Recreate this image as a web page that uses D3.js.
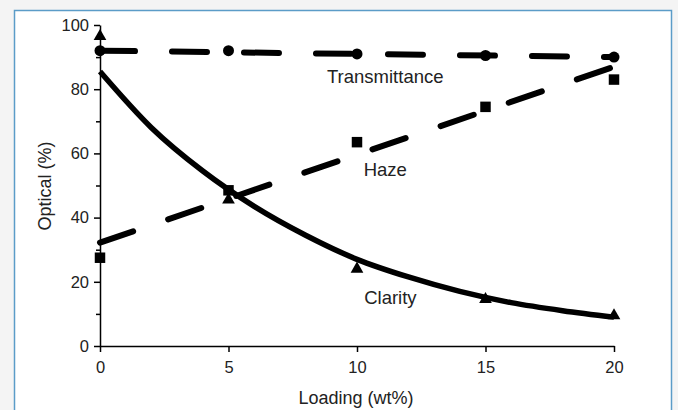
<!DOCTYPE html>
<html><head><meta charset="utf-8">
<script src="https://cdn.jsdelivr.net/npm/d3@7"></script>
<style>body{margin:0;background:#f4f4f4;}svg{display:block;}</style>
</head><body><svg id="c" width="678" height="410"></svg>
<script>
const loading = [0, 5, 10, 15, 20];
const transmittance = [92, 92, 91, 90.5, 90];
const haze = [27.5, 48.5, 63.5, 74.5, 83];
const clarity = [96.5, 45.5, 24, 14.5, 9.5];
const transFitX = [0, 20];
const transFitY = [92, 90];
const hazeFitX = [0, 20];
const hazeFitY = [32.2, 87];
const clarityFitX = [0, 2, 4, 6, 8, 10, 12, 14, 16, 18, 20];
const clarityFitY = [85.5, 68, 54.5, 43.5, 34.5, 27, 21.5, 17, 13.5, 11, 9];
const xTicks = [0, 5, 10, 15, 20];
const yTicks = [0, 20, 40, 60, 80, 100];
const yMinor = [10, 30, 50, 70, 90];
const labels = [
  {text: "Transmittance", x: 11.1, y: 82},
  {text: "Haze", x: 11.1, y: 53},
  {text: "Clarity", x: 11.3, y: 13}
];

const svg = d3.select("#c");
svg.append("rect").attr("x", 0).attr("y", 0).attr("width", 678).attr("height", 410).attr("fill", "#f4f4f4");
svg.append("rect").attr("x", 14.5).attr("y", 10.5).attr("width", 657).attr("height", 420)
  .attr("fill", "#fff").attr("stroke", "#5b9cc8").attr("stroke-width", 1.5);

const x = d3.scaleLinear().domain([0, 20]).range([100, 614]);
const y = d3.scaleLinear().domain([0, 100]).range([346, 25]);
const font = "'Liberation Sans', Arial, Helvetica, sans-serif";
const txt = "#222";

// axes
const gy = svg.append("g").attr("transform", "translate(100,0)")
  .call(d3.axisLeft(y).tickValues(yTicks).tickSize(6).tickSizeOuter(0).tickPadding(5));
const gyMinor = svg.append("g").attr("transform", "translate(100,0)")
  .call(d3.axisLeft(y).tickValues(yMinor).tickSize(4).tickFormat(""));
gyMinor.select(".domain").remove();
const gx = svg.append("g").attr("transform", "translate(0,346)")
  .call(d3.axisBottom(x).tickValues(xTicks).tickSize(6).tickSizeOuter(0).tickPadding(9));
[gy, gyMinor, gx].forEach(g => {
  g.selectAll("path,line").attr("stroke", "#000").attr("stroke-width", 1.5);
  g.selectAll("text").attr("font-family", font).attr("font-size", 16.5).attr("fill", txt);
});

// fit lines
const line = d3.line().x(d => x(d[0])).y(d => y(d[1]));
const dash = "35,37";
svg.append("path").datum(d3.zip(transFitX, transFitY)).attr("d", line)
  .attr("fill", "none").attr("stroke", "#000").attr("stroke-width", 6)
  .attr("stroke-dasharray", dash).attr("stroke-linecap", "round");
svg.append("path").datum(d3.zip(hazeFitX, hazeFitY)).attr("d", line)
  .attr("fill", "none").attr("stroke", "#000").attr("stroke-width", 6)
  .attr("stroke-dasharray", dash).attr("stroke-linecap", "round");
svg.append("path").datum(d3.zip(clarityFitX, clarityFitY))
  .attr("d", d3.line().x(d => x(d[0])).y(d => y(d[1])).curve(d3.curveMonotoneX))
  .attr("fill", "none").attr("stroke", "#000").attr("stroke-width", 5.5);

// markers
function markers(vals, type, size) {
  svg.append("g").selectAll("path").data(d3.zip(loading, vals)).join("path")
    .attr("transform", d => `translate(${x(d[0])},${y(d[1])})`)
    .attr("d", d3.symbol().type(type).size(size)).attr("fill", "#000");
}
markers(transmittance, d3.symbolCircle, 95);
markers(haze, d3.symbolSquare, 110);
markers(clarity, d3.symbolTriangle, 70);

// labels
svg.append("g").selectAll("text").data(labels).join("text")
  .attr("x", d => x(d.x)).attr("y", d => y(d.y)).attr("text-anchor", "middle")
  .attr("font-family", font).attr("font-size", 18.5).attr("fill", txt).text(d => d.text);

svg.append("text").attr("x", 356).attr("y", 404).attr("text-anchor", "middle")
  .attr("font-family", font).attr("font-size", 18).attr("fill", txt).text("Loading (wt%)");
svg.append("text").attr("transform", "translate(51,186) rotate(-90)").attr("text-anchor", "middle")
  .attr("font-family", font).attr("font-size", 18).attr("fill", txt).text("Optical (%)");
</script></body></html>
